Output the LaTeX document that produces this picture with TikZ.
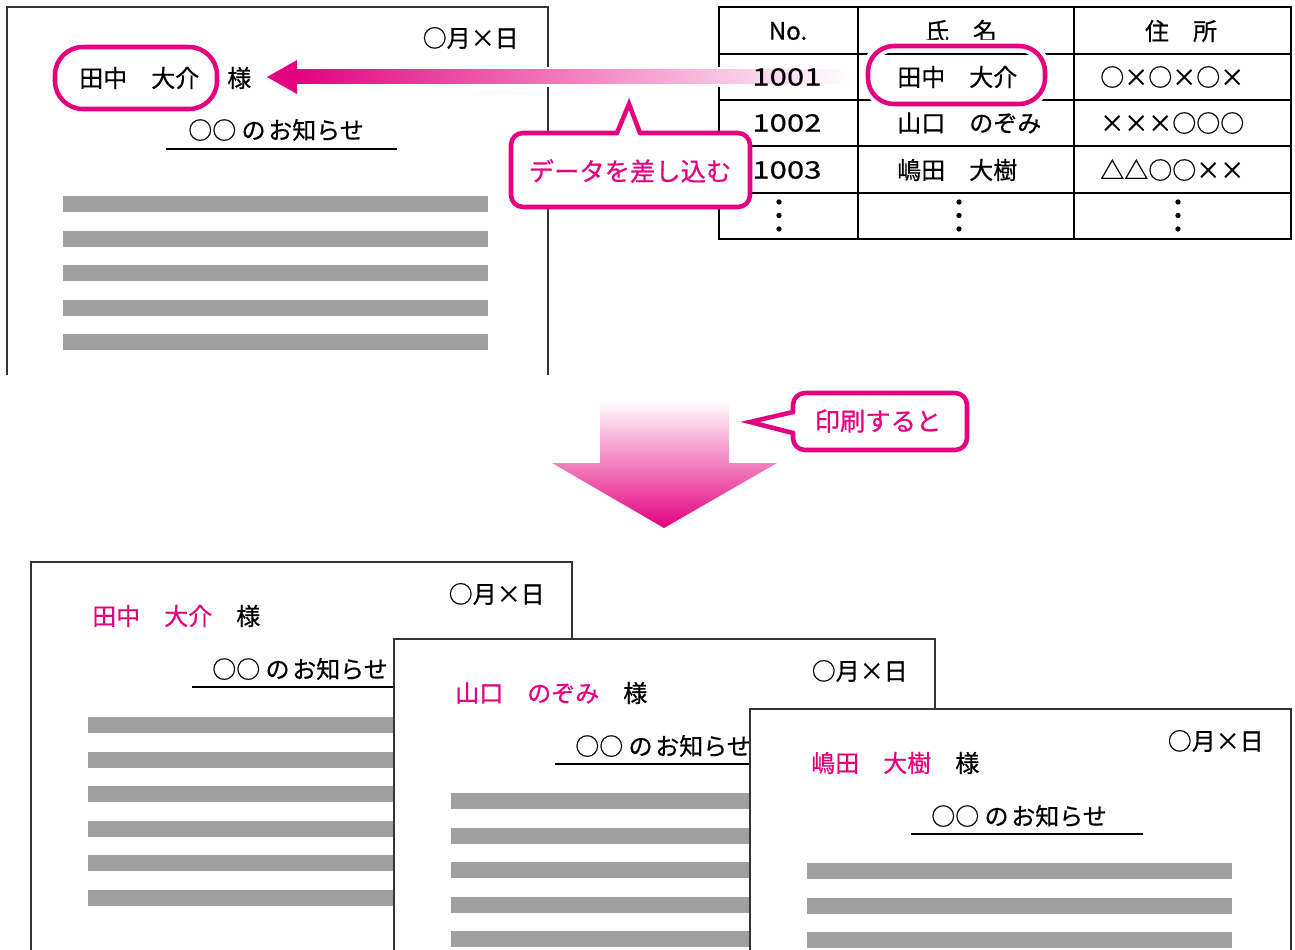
\documentclass[tikz,border=0pt]{standalone}
\usepackage{fontspec}
\setmainfont{Noto Sans CJK JP}[FakeBold=0.6]
\newfontfamily\numfont[FakeStretch=1.3,FakeBold=0.6]{Noto Sans CJK JP}
\definecolor{mag}{HTML}{E4007F}
\definecolor{barcol}{HTML}{A0A0A0}
\definecolor{docline}{HTML}{333333}
\newcommand{\oshirase}{○○\kern4pt の\kern2pt お知らせ}
\newcommand{\printdoc}[5]{%
  \filldraw[fill=white, docborder] (#1,#2) rectangle ({#1+541},960);
  \node[txt, anchor=east] (#5date) at ({#1+514},{#2+32}) {○月×日};
  \node[txt, anchor=west] (#5name) at ({#1+61},{#2+54}) {\textcolor{mag}{#3}　様};
  \node[txt, anchor=west] (#5title) at ({#1+181},{#2+107}) {\oshirase};
  \draw[uline] ({#1+161},{#2+125}) -- ({#1+393},{#2+125});
  \foreach \k in {0,...,5} \fill[barcol] ({#1+57},{#4+34.5*\k}) rectangle ({#1+482},{#4+34.5*\k+16});
}
\begin{document}
\begin{tikzpicture}[x=0.75pt,y=-0.75pt,
  txt/.style={inner sep=0pt, font=\fontsize{18}{20}\selectfont},
  bigtxt/.style={inner sep=0pt, font=\fontsize{19}{21}\selectfont},
  numtxt/.style={inner sep=0pt, font=\fontsize{18}{20}\selectfont\numfont},
  docborder/.style={draw=docline, line width=1.1pt},
  uline/.style={draw=black, line width=1.1pt},
  tabline/.style={draw=black, line width=1.2pt},
  magline/.style={draw=mag, line width=3.4pt},
  halo/.style={draw=white, line width=9pt}]
\useasboundingbox (0,0) rectangle (1295,949);
\clip (0,0) rectangle (1295,949);

% ---------- source document ----------
\draw[docborder] (7,375) -- (7,7) -- (548,7) -- (548,375);
\node[txt, anchor=east] (d1date) at (519,38) {○月×日};
\node[txt, anchor=west] (d1name) at (79,78) {田中　大介};
\node[txt, anchor=west] (d1sama) at (227,78) {様};
\node[txt, anchor=west] (d1title) at (188,130) {\oshirase};
\draw[uline] (166,149) -- (397,149);
\foreach \y in {196,230.5,265,299.5,334} \fill[barcol] (63,\y) rectangle (488,\y+16);

% ---------- table ----------
\draw[tabline] (719,7) rectangle (1291,239);
\foreach \y in {54,100,146,193} \draw[tabline] (719,\y) -- (1291,\y);
\draw[tabline] (858,7) -- (858,239);
\draw[tabline] (1074,7) -- (1074,239);

% ---------- insert arrow ----------
\fill[white] (300,67) rectangle (852,87);
\shade[left color=mag, right color=white] (292,70) rectangle (852,84);
\fill[mag] (267,77) -- (297,60) -- (297,94) -- cycle;
\coordinate (arrtip) at (267,77);

% table texts
\node[txt] (hno) at (788,31) {No.};
\node[txt] (hname) at (961,31) {氏　名};
\node[txt] (haddr) at (1181,31) {住　所};
\node[numtxt, anchor=west] (n1) at (752,77) {1001};
\node[numtxt, anchor=west] (n2) at (752,123) {1002};
\node[numtxt, anchor=west] (n3) at (752,170) {1003};
\node[txt, anchor=west] (m1) at (897,77) {田中　大介};
\node[txt, anchor=west] (m2) at (897,123) {山口　のぞみ};
\node[txt, anchor=west] (m3) at (897,170) {嶋田　大樹};
\node[txt, anchor=west] (a1) at (1100,77) {○×○×○×};
\node[txt, anchor=west] (a2) at (1100,123) {×××○○○};
\node[txt, anchor=west] (a3) at (1100,170) {△△○○××};
\foreach \x in {779,959,1178}
  \foreach \y in {202,215.5,229} \fill[black] (\x,\y) circle (2pt);

% ovals
\draw[halo, rounded corners=19.5pt] (868,46) rectangle (1045,104);
\draw[magline, rounded corners=19.5pt] (868,46) rectangle (1045,104);
\draw[magline, rounded corners=21pt] (55,47) rectangle (217,109);

% callout 1
\fill[white, rounded corners=9pt] (511,133) rectangle (750,207);
\fill[white] (617,133) -- (629,104) -- (640,133) -- cycle;
\draw[magline, rounded corners=9pt, line cap=round] (640,133) -- (750,133) -- (750,207) -- (511,207) -- (511,133) -- (617,133);
\draw[magline, line cap=round, line join=miter] (617,133) -- (629,104) -- (640,133);
\node[bigtxt, text=mag] (c1) at (630,171) {データを差し込む};

% ---------- print arrow ----------
\shade[top color=white, bottom color=mag] (600,400) -- (729,400) -- (729,463) -- (777,463) -- (664,528) -- (552,463) -- (600,463) -- cycle;

% callout 2
\fill[white, rounded corners=9pt] (793,393) rectangle (967,450);
\fill[white] (793,412) -- (750,422) -- (793,433) -- cycle;
\draw[magline, rounded corners=9pt, line cap=round] (793,433) -- (793,450) -- (967,450) -- (967,393) -- (793,393) -- (793,412);
\draw[magline, line cap=round, line join=miter] (793,412) -- (750,422) -- (793,433);
\node[bigtxt, text=mag] (c2) at (878,421) {印刷すると};

% ---------- printed documents ----------
\printdoc{31}{562}{田中　大介}{717}{pa}
\printdoc{394}{639}{山口　のぞみ}{793}{pb}
\printdoc{750}{709}{嶋田　大樹}{863}{pc}
\end{tikzpicture}
\end{document}
